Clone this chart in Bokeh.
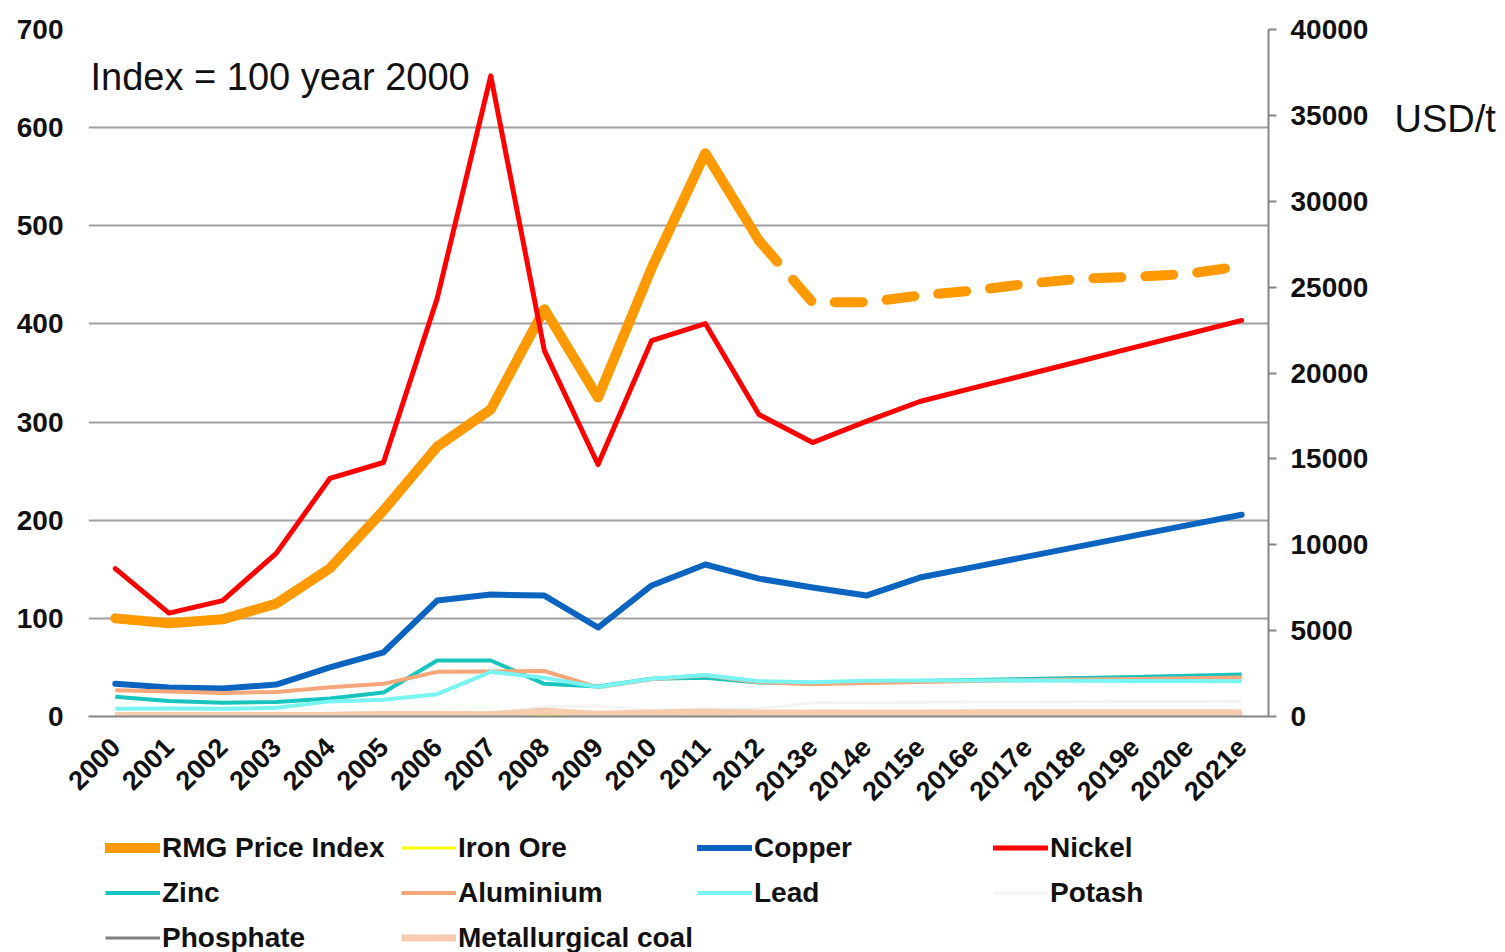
import math
from bokeh.plotting import figure
from bokeh.layouts import column
from bokeh.models import FactorRange, Range1d, LinearAxis, Legend, LegendItem, Label, FixedTicker
from bokeh.embed import file_html
from bokeh.resources import INLINE

years = ["2000", "2001", "2002", "2003", "2004", "2005", "2006", "2007", "2008", "2009",
         "2010", "2011", "2012", "2013e", "2014e", "2015e", "2016e", "2017e", "2018e",
         "2019e", "2020e", "2021e"]

# RMG Price Index (left axis, index 2000 = 100)
rmg = [100, 95, 99, 115, 151, 210, 275, 313, 415, 325, 457, 574, 485, 422, 422, 429,
       434, 441, 446, 448, 451, 459]

# Prices in USD/t (right axis)
iron_ore = [28, 30, 29, 32, 38, 60, 70, 80, 140, 80, 146, 168, 130, 120, 110, 100, 95, 90,
            90, 90, 90, 90]
copper = [1900, 1690, 1630, 1860, 2860, 3730, 6750, 7100, 7040, 5180, 7630, 8850, 8030,
          7510, 7040, 8090, 8700, 9310, 9920, 10530, 11140, 11750]
nickel = [8610, 6020, 6750, 9500, 13860, 14790, 24330, 37300, 21300, 14670, 21890, 22880,
          17580, 15950, 17180, 18340, 19130, 19910, 20700, 21490, 22270, 23060]
zinc = [1150, 900, 800, 850, 1050, 1400, 3260, 3260, 1900, 1750, 2200, 2250, 1980, 1920,
        2000, 2060, 2120, 2180, 2240, 2300, 2370, 2440]
aluminium = [1530, 1450, 1370, 1430, 1700, 1900, 2600, 2620, 2650, 1700, 2170, 2400, 2000,
             1880, 1950, 2010, 2060, 2110, 2150, 2190, 2230, 2270]
lead = [450, 470, 450, 510, 880, 980, 1300, 2600, 2250, 1720, 2200, 2420, 2050, 2000, 2080,
        2100, 2100, 2090, 2080, 2070, 2060, 2050]
potash = [120, 120, 115, 120, 130, 170, 175, 200, 570, 630, 330, 440, 460, 800, 820, 830,
          840, 850, 860, 870, 880, 890]
phosphate = [45, 45, 42, 45, 55, 60, 65, 130, 420, 120, 140, 200, 180, 150, 140, 140, 140,
             140, 140, 140, 140, 140]
met_coal = [60, 60, 60, 65, 80, 120, 115, 100, 300, 130, 200, 260, 210, 200, 205, 210, 215,
            215, 220, 220, 225, 225]

legend_labels = ["RMG Price Index", "Iron Ore", "Copper", "Nickel", "Zinc", "Aluminium",
                 "Lead", "Potash", "Phosphate", "Metallurgical coal"]

unit_label = {34800: "USD/t"}
title_text = "Index = 100 year 2000"

FONT = "Liberation Sans"

# Line styles for each series, in legend order
styles = [
    dict(line_color="#ff9900", line_width=10, line_join="round", line_cap="round"),
    dict(line_color="#ffff00", line_width=3),
    dict(line_color="#0a64c0", line_width=6, line_join="round", line_cap="round"),
    dict(line_color="#ff0000", line_width=5, line_join="round", line_cap="round"),
    dict(line_color="#17c4be", line_width=4, line_join="round"),
    dict(line_color="#f6a77a", line_width=4, line_join="round"),
    dict(line_color="#7af3f3", line_width=4, line_join="round"),
    dict(line_color="#f3f3f3", line_width=3),
    dict(line_color="#808080", line_width=3),
    dict(line_color="#f7cbae", line_width=7),
]
all_series = [rmg, iron_ore, copper, nickel, zinc, aluminium, lead, potash, phosphate, met_coal]

p = figure(width=1505, height=820,
           x_range=FactorRange(*years, range_padding=0),
           y_range=Range1d(0, 700),
           output_backend="svg", toolbar_location=None,
           min_border_left=88, min_border_right=237, min_border_top=29, min_border_bottom=104)
p.extra_y_ranges = {"usd": Range1d(0, 40000)}
p.outline_line_color = None
p.background_fill_color = "white"
p.border_fill_color = "white"

# Grid
p.xgrid.visible = False
p.ygrid.grid_line_color = "#a0a0a0"
p.ygrid.grid_line_width = 2

# Left axis
yax = p.yaxis[0]
yax.ticker = FixedTicker(ticks=[0, 100, 200, 300, 400, 500, 600, 700])
yax.axis_line_color = None
yax.major_tick_line_color = None
yax.minor_tick_line_color = None
yax.major_label_standoff = 19
yax.major_label_text_font = FONT
yax.major_label_text_font_size = "28px"
yax.major_label_text_font_style = "bold"
yax.major_label_text_color = "#111111"

# Right axis
rax = LinearAxis(y_range_name="usd",
                 ticker=FixedTicker(ticks=list(range(0, 40001, 5000))))
rax.axis_line_color = "#868686"
rax.axis_line_width = 2
rax.major_tick_line_color = "#868686"
rax.major_tick_line_width = 2
rax.major_tick_out = 8
rax.major_tick_in = 0
rax.minor_tick_line_color = None
rax.major_label_standoff = 14
rax.major_label_text_font = FONT
rax.major_label_text_font_size = "28px"
rax.major_label_text_font_style = "bold"
rax.major_label_text_color = "#111111"
p.add_layout(rax, "right")

# Unit caption on the right (an axis carrying only the unit text)
uax = LinearAxis(y_range_name="usd", ticker=FixedTicker(ticks=list(unit_label.keys())),
                 major_label_overrides=unit_label)
uax.axis_line_color = None
uax.major_tick_line_color = None
uax.minor_tick_line_color = None
uax.major_label_standoff = 17
uax.major_label_text_font = FONT
uax.major_label_text_font_size = "38px"
uax.major_label_text_color = "#111111"
p.add_layout(uax, "right")

# X axis
xax = p.xaxis[0]
xax.axis_line_color = "#868686"
xax.axis_line_width = 2
xax.major_tick_line_color = None
xax.minor_tick_line_color = None
xax.major_label_orientation = math.pi / 4
xax.major_label_standoff = 20
xax.major_label_text_font = FONT
xax.major_label_text_font_size = "27px"
xax.major_label_text_font_style = "bold"
xax.major_label_text_color = "#111111"

# Lines
p.line(years[:13], rmg[:13], **styles[0])
p.line(years[12:], rmg[12:], line_dash="28 24", **styles[0])
for vals, st in zip(all_series[1:], styles[1:]):
    p.line(years, vals, y_range_name="usd", **st)

p.add_layout(Label(x=2, y=640, x_units="screen", y_units="screen",
                   text=title_text, text_font=FONT, text_font_size="38px",
                   text_color="#111111", text_baseline="alphabetic"))

# Legend panel below the chart (its lines lie outside its visible range; only the legend shows)
q = figure(width=1505, height=132, x_range=FactorRange(*years, range_padding=0),
           y_range=Range1d(0, 1),
           output_backend="svg", toolbar_location=None,
           x_axis_type=None, y_axis_type=None,
           min_border_left=0, min_border_right=0, min_border_top=0, min_border_bottom=0)
q.outline_line_color = None
q.grid.visible = False
q.background_fill_color = "white"
q.border_fill_color = "white"

leg_renderers = [q.line(years, vals, **st) for vals, st in zip(all_series, styles)]
items = [LegendItem(label=lab, renderers=[r]) for lab, r in zip(legend_labels, leg_renderers)]

legend = Legend(items=items, orientation="horizontal", ncols=4,
                location=(17, -8), padding=0, margin=0, spacing=0,
                glyph_width=55, glyph_height=45, label_height=45, label_width=239,
                label_standoff=2,
                label_text_font=FONT, label_text_font_size="28px",
                label_text_font_style="bold", label_text_color="#111111",
                background_fill_alpha=0, border_line_color=None)
q.add_layout(legend, "center")

layout = column(p, q, spacing=0)

open("out.html", "w").write(file_html(layout, INLINE))
